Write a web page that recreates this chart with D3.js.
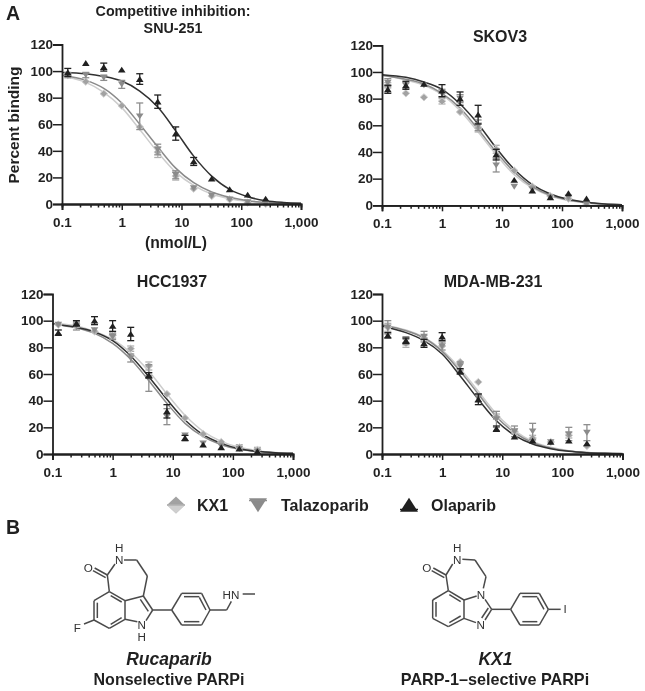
<!DOCTYPE html>
<html>
<head>
<meta charset="utf-8">
<script src="https://cdn.jsdelivr.net/npm/d3@7"></script>
<style>
  html, body { margin: 0; background: #fff; }
  svg { display: block; filter: grayscale(1); }
  text { font-family: "Liberation Sans", Arial, sans-serif; fill: #231f20; }
</style>
</head>
<body>
<div id="chart"></div>
<script>
// Doses used in the assay and the x positions the fitted curves were read at
const doses = [0.125, 0.25, 0.5, 1, 2, 4, 8, 16, 32, 64, 128, 256];
const curveDoses = [0.1, 0.25, 0.5, 1, 2, 4, 8, 16, 32, 64, 128, 256, 512, 1000];

const xTicks = [0.1, 1, 10, 100, 1000];
const xTickLabels = ['0.1', '1', '10', '100', '1,000'];
const yTicks = [0, 20, 40, 60, 80, 100, 120];

// SNU-251
const snuKx1 = [97, 92, 83, 74, 58, 39, 21, 11.5, 6, 3.5, 1, 0];
const snuKx1Err = [1, 1, 1, 1, 1, 4, 3, 1, 1, 1, 0, 0];
const snuKx1Curve = [96.5, 91.5, 84, 72.5, 56, 39, 24, 14, 7.5, 4, 2, 1, 0.5, 0.3];
const snuTala = [97, 97, 95, 90, 66, 41, 22, 12, 6.5, 3.5, 1.5, 0.5];
const snuTalaErr = [2, 2, 2, 3, 10, 4, 3, 1, 1, 1, 0, 0];
const snuTalaCurve = [97, 93, 87, 76, 60, 43, 27, 16, 9, 5, 2.5, 1.2, 0.6, 0.3];
const snuOla = [99, 106, 103, 101, 94, 77, 53, 32, 19, 11, 7, 4];
const snuOlaErr = [3, 0, 3, 0, 4, 5, 5, 3, 0, 0, 0, 0];
const snuOlaCurve = [99, 98, 96, 92.5, 85, 73, 55, 36, 21, 11, 5.5, 2.5, 1.2, 0.6];

// SKOV3
const skovKx1 = [90, 84, 81, 78, 70, 58, 42, 26, 14, 7, 5, 1];
const skovKx1Err = [2, 1, 1, 2, 1, 3, 3, 1, 1, 1, 1, 1];
const skovKx1Curve = [97.5, 94, 90, 83, 71, 55, 38, 23, 13, 7, 3.5, 1.8, 0.8, 0.4];
const skovTala = [92, 90, 90, 84, 80, 60, 30, 14, 12, 6, 6, 1];
const skovTalaErr = [3, 2, 1, 3, 3, 4, 5, 1, 1, 1, 1, 0];
const skovTalaCurve = [97.5, 94.5, 91, 84, 73, 57, 40, 25, 14, 7.5, 4, 2, 0.9, 0.4];
const skovOla = [87, 90, 91, 86, 80, 68, 38, 19, 11, 6, 9, 5];
const skovOlaErr = [3, 3, 1, 4.5, 5, 7, 4, 1, 1, 1, 1, 1];
const skovOlaCurve = [98, 96, 92.5, 87, 76, 61, 43, 27, 15.5, 8.5, 4.5, 2.2, 1, 0.5];

// HCC1937
const hccKx1 = [97, 97, 92, 89, 79, 66, 45, 27, 15, 9, 5, 3];
const hccKx1Err = [1, 2, 1, 2, 2, 3, 1, 1, 1, 1, 2, 2];
const hccKx1Curve = [98, 96, 92, 86, 76, 62, 45, 29, 17, 9.5, 5, 2.5, 1.2, 0.6];
const hccTala = [97, 96, 93, 88, 72, 57, 28, 14, 8, 6, 4, 2];
const hccTalaErr = [1, 3, 1, 2, 3, 10, 6, 1, 1, 1, 1, 1];
const hccTalaCurve = [97.5, 94.5, 90.5, 83, 71, 55, 38, 23, 13, 7, 3.5, 1.8, 0.8, 0.4];
const hccOla = [91, 98, 100, 96, 90, 59, 32, 12, 7, 5, 4, 2];
const hccOlaErr = [2, 2, 3, 4, 5, 2, 5, 2, 1, 1, 0, 0];
const hccOlaCurve = [97.5, 95, 91.5, 85, 73.5, 58, 41, 25.5, 14.5, 8, 4, 2, 1, 0.5];

// MDA-MB-231
const mdaKx1 = [95, 83, 87, 81, 69, 54, 28, 17, 12, 9, 14, 6];
const mdaKx1Err = [3, 3, 2, 1, 1, 1, 2, 2, 2, 1, 2, 1];
const mdaKx1Curve = [97, 93, 87.5, 78, 64, 47, 30, 17.5, 9.5, 5, 2.5, 1.2, 0.6, 0.3];
const mdaTala = [95, 85, 88, 81, 66, 42, 26, 17, 17, 9, 15, 16];
const mdaTalaErr = [5, 3, 4, 3, 3, 3, 6, 4, 6, 1, 5, 6];
const mdaTalaCurve = [96.5, 92.5, 87, 77, 62, 45, 28, 16, 8.5, 4.5, 2.2, 1.1, 0.5, 0.3];
const mdaOla = [89, 85, 83, 88, 62, 41, 19, 13, 10, 9, 10, 8];
const mdaOlaErr = [2, 2, 3, 3, 2, 4, 2, 1, 1, 1, 1, 1];
const mdaOlaCurve = [96, 91, 85, 75, 58.5, 41, 25, 14, 7.5, 4, 2, 1, 0.5, 0.2];

const seriesNames = ['KX1', 'Talazoparib', 'Olaparib'];

// Panel layout, built from the arrays above
const panels = [
  { left: 62, right: 301, top: 44.5, bottom: 204,
    series: [[snuKx1, snuKx1Err, snuKx1Curve], [snuTala, snuTalaErr, snuTalaCurve], [snuOla, snuOlaErr, snuOlaCurve]] },
  { left: 382, right: 622, top: 45.3, bottom: 205.3,
    series: [[skovKx1, skovKx1Err, skovKx1Curve], [skovTala, skovTalaErr, skovTalaCurve], [skovOla, skovOlaErr, skovOlaCurve]] },
  { left: 52.5, right: 293, top: 294, bottom: 454,
    series: [[hccKx1, hccKx1Err, hccKx1Curve], [hccTala, hccTalaErr, hccTalaCurve], [hccOla, hccOlaErr, hccOlaCurve]] },
  { left: 382, right: 622.5, top: 294, bottom: 454,
    series: [[mdaKx1, mdaKx1Err, mdaKx1Curve], [mdaTala, mdaTalaErr, mdaTalaCurve], [mdaOla, mdaOlaErr, mdaOlaCurve]] }
];

const seriesStyle = [
  { symbol: 'diamond', fill: '#a2a2a2', line: '#cdcdcd', bar: '#b0b0b0', halo: '#cfcfcf' },
  { symbol: 'down', fill: '#8b8b8b', line: '#8a8a8a', bar: '#8e8e8e', halo: 'none' },
  { symbol: 'up', fill: '#231f20', line: '#333132', bar: '#231f20', halo: 'none' }
];

const svg = d3.select('#chart').append('svg')
  .attr('width', 645).attr('height', 691);

// Marker shapes around 0,0
function markerPath(kind, r) {
  if (kind === 'diamond') return `M${-r},0L0,${-r * 0.95}L${r},0L0,${r * 0.95}Z`;
  if (kind === 'down') return `M${-r},${-r * 0.75}L${r},${-r * 0.75}L0,${r * 0.8}Z`;
  return `M${-r},${r * 0.75}L${r},${r * 0.75}L0,${-r * 0.8}Z`;
}

panels.forEach(p => {
  const x = d3.scaleLog().domain([0.1, 1000]).range([p.left, p.right]);
  const y = d3.scaleLinear().domain([0, 120]).range([p.bottom, p.top]);
  const g = svg.append('g');

  const line = d3.line()
    .x((d, i) => x(curveDoses[i]))
    .y(d => y(d))
    .curve(d3.curveCatmullRom.alpha(0.5));

  p.series.forEach((s, k) => {
    g.append('path')
      .attr('d', line(s[2]))
      .attr('fill', 'none')
      .attr('stroke', seriesStyle[k].line)
      .attr('stroke-width', 1.5);
  });

  p.series.forEach((s, k) => {
    const st = seriesStyle[k];
    const pts = g.append('g').selectAll('g')
      .data(s[0].map((v, i) => ({ dose: doses[i], v, e: s[1][i] })))
      .join('g');

    // error bars, only where they show past the marker
    const bars = pts.filter(d => d.e > 1.5);
    bars.append('line')
      .attr('x1', d => x(d.dose)).attr('x2', d => x(d.dose))
      .attr('y1', d => y(d.v - d.e)).attr('y2', d => y(d.v + d.e))
      .attr('stroke', st.bar).attr('stroke-width', 1.3);
    [-1, 1].forEach(sign => {
      bars.append('line')
        .attr('x1', d => x(d.dose) - 3.5).attr('x2', d => x(d.dose) + 3.5)
        .attr('y1', d => y(d.v + sign * d.e)).attr('y2', d => y(d.v + sign * d.e))
        .attr('stroke', st.bar).attr('stroke-width', 1.3);
    });

    pts.append('path')
      .attr('transform', d => `translate(${x(d.dose)},${y(d.v)})`)
      .attr('d', markerPath(st.symbol, 3.8))
      .attr('fill', st.fill)
      .attr('stroke', st.halo)
      .attr('stroke-width', 1);
  });

  // Axes
  const yAxis = d3.axisLeft(y).tickValues(yTicks).tickSize(9).tickPadding(0);
  const xAxis = d3.axisBottom(x).tickValues(xTicks).tickSize(6).tickPadding(7)
    .tickFormat((d, i) => xTickLabels[i]);
  const minor = [];
  d3.range(-1, 3).forEach(e => d3.range(2, 10).forEach(m => minor.push(m * Math.pow(10, e))));
  const xMinor = d3.axisBottom(x).tickValues(minor).tickSize(3.5).tickFormat('');

  const gy = g.append('g').attr('transform', `translate(${p.left},0)`).call(yAxis);
  const gm = g.append('g').attr('transform', `translate(0,${p.bottom})`).call(xMinor);
  const gx = g.append('g').attr('transform', `translate(0,${p.bottom})`).call(xAxis);
  [gy, gm, gx].forEach(a => {
    a.selectAll('path').attr('stroke', '#231f20').attr('stroke-width', 1.8);
    a.selectAll('line').attr('stroke', '#231f20').attr('stroke-width', 1.5);
    a.selectAll('text')
      .attr('font-size', 13.5).attr('font-weight', 700)
      .style('font-family', '"Liberation Sans", Arial, sans-serif');
  });
});

// Titles and panel letters
const labels = [
  ['A', 6, 20, 19.5, 'start', 700, 'normal'],
  ['B', 6, 534, 19.5, 'start', 700, 'normal'],
  ['Competitive inhibition:', 173, 16, 14.3, 'middle', 700, 'normal'],
  ['SNU-251', 173, 33, 14.3, 'middle', 700, 'normal'],
  ['SKOV3', 500, 41.5, 16, 'middle', 700, 'normal'],
  ['HCC1937', 172, 287, 16, 'middle', 700, 'normal'],
  ['MDA-MB-231', 493, 287, 16, 'middle', 700, 'normal'],
  ['(nmol/L)', 176, 248, 15.7, 'middle', 700, 'normal'],
  ['Rucaparib', 169, 665, 17.5, 'middle', 700, 'italic'],
  ['Nonselective PARPi', 169, 685, 16, 'middle', 700, 'normal'],
  ['KX1', 495.5, 665, 17.5, 'middle', 700, 'italic'],
  ['PARP-1–selective PARPi', 495, 685, 16.2, 'middle', 700, 'normal']
];
svg.append('g').selectAll('text').data(labels).join('text')
  .text(d => d[0])
  .attr('x', d => d[1]).attr('y', d => d[2])
  .attr('font-size', d => d[3])
  .attr('text-anchor', d => d[4])
  .attr('font-weight', d => d[5])
  .attr('font-style', d => d[6]);

svg.append('text')
  .text('Percent binding')
  .attr('transform', 'translate(19,125) rotate(-90)')
  .attr('text-anchor', 'middle')
  .attr('font-size', 15.5)
  .attr('font-weight', 700);

// Legend
const legendPos = [[176, 197], [258, 281], [409, 431]];
const legend = svg.append('g').selectAll('g').data(seriesNames).join('g')
  .attr('transform', (d, i) => `translate(${legendPos[i][0]},505)`);
legend.append('path')
  .attr('d', (d, i) => markerPath(seriesStyle[i].symbol, 9))
  .attr('fill', (d, i) => seriesStyle[i].fill);
// KX1 has a paler lower half
legend.filter((d, i) => i === 0).append('path')
  .attr('d', 'M-9,0L9,0L0,8.5Z').attr('fill', '#cfcfcf');
legend.append('line')
  .attr('x1', -9).attr('x2', 9)
  .attr('y1', (d, i) => [0, -4.5, 4.5][i]).attr('y2', (d, i) => [0, -4.5, 4.5][i])
  .attr('stroke', (d, i) => seriesStyle[i].bar).attr('stroke-width', 1.5);
legend.append('text')
  .text(d => d)
  .attr('x', (d, i) => legendPos[i][1] - legendPos[i][0])
  .attr('y', 5.5)
  .attr('font-size', 16)
  .attr('font-weight', 700);

// Chemical structures, bonds as x1,y1,x2,y2 in 3x zoomed picture units
const rucaparibBonds = [
  [345, 252, 322, 285], [322, 285, 284, 264], [317, 293, 279, 272], [372, 240, 410, 240], [410, 240, 442, 288],
  [442, 288, 430, 348], [322, 285, 328, 335], [328, 335, 282, 362], [282, 362, 282, 420], [282, 420, 328, 445],
  [328, 445, 375, 418], [375, 418, 375, 362], [375, 362, 328, 335], [252, 432, 282, 420], [375, 362, 430, 348],
  [430, 348, 458, 390], [421, 358, 445, 394], [458, 390, 438, 422], [412, 425, 375, 418], [458, 390, 515, 390],
  [515, 390, 545, 340], [545, 340, 605, 340], [605, 340, 630, 390], [630, 390, 605, 435], [605, 435, 545, 435],
  [545, 435, 515, 390], [552, 350, 598, 350], [552, 425, 598, 425], [618, 390, 598, 352], [292, 368, 292, 414],
  [332, 433, 365, 413], [332, 347, 365, 366], [630, 390, 680, 390], [680, 390, 694, 364], [728, 342, 765, 342]
];
const kx1Bonds = [
  [398, 252, 378, 285], [378, 285, 340, 264], [373, 293, 335, 272], [427, 238, 465, 240], [465, 240, 498, 290],
  [498, 290, 490, 325], [378, 285, 385, 332], [385, 332, 338, 360], [338, 360, 338, 415], [338, 415, 385, 440],
  [385, 440, 432, 415], [432, 415, 432, 360], [432, 360, 385, 332], [348, 366, 348, 410], [388, 428, 422, 408],
  [388, 344, 422, 365], [432, 360, 470, 348], [495, 358, 515, 388], [515, 388, 495, 420], [505, 384, 485, 414],
  [468, 428, 432, 415], [515, 388, 572, 388], [572, 388, 600, 340], [600, 340, 658, 340], [658, 340, 685, 388],
  [685, 388, 658, 435], [658, 435, 600, 435], [600, 435, 572, 388], [607, 350, 652, 350], [607, 425, 652, 425],
  [672, 388, 652, 352], [685, 388, 722, 388]
];
const rucaparibAtoms = [['H', 358, 204], ['N', 358, 240], ['O', 265, 263], ['F', 232, 445], ['N', 425, 435], ['H', 425, 470], ['HN', 693, 345]];
const kx1Atoms = [['H', 412, 203], ['N', 412, 239], ['O', 320, 263], ['N', 483, 345], ['N', 482, 435], ['I', 735, 388]];

function drawMolecule(bonds, atoms, ox, oy) {
  const m = svg.append('g').attr('transform', `translate(${ox},${oy}) scale(${1 / 3})`);
  m.selectAll('line').data(bonds).join('line')
    .attr('x1', d => d[0]).attr('y1', d => d[1])
    .attr('x2', d => d[2]).attr('y2', d => d[3])
    .attr('stroke', '#4a4a4a').attr('stroke-width', 4.5);
  m.selectAll('text').data(atoms).join('text')
    .text(d => d[0])
    .attr('x', d => d[1]).attr('y', d => d[2] + 12)
    .attr('text-anchor', 'middle')
    .attr('font-size', 35)
    .style('fill', '#333');
}
drawMolecule(rucaparibBonds, rucaparibAtoms, 0, 480);
drawMolecule(kx1Bonds, kx1Atoms, 320, 480);
</script>
</body>
</html>
